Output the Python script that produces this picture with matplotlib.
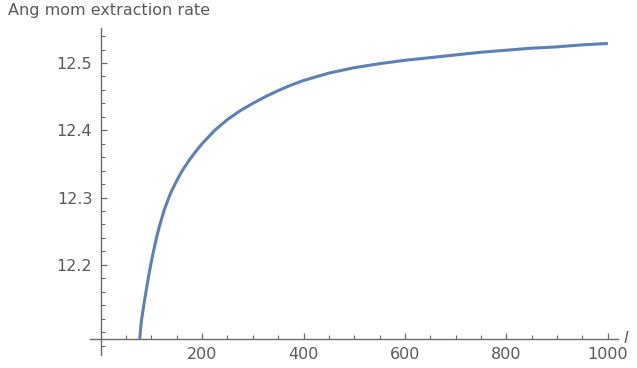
import numpy as np
import matplotlib.pyplot as plt
from matplotlib.ticker import FixedLocator

# values
l_vals = [77, 80, 85, 90, 95, 100, 105, 110, 115, 120, 125, 135, 140, 150, 160,
          175, 190, 200, 225, 250, 275, 300, 325, 350, 375, 400, 450, 500, 550,
          600, 650, 700, 750, 800, 850, 900, 950, 1000]
rate = [12.09, 12.115, 12.14, 12.163, 12.185, 12.205, 12.223, 12.24, 12.255,
        12.268, 12.281, 12.301, 12.31, 12.325, 12.339, 12.356, 12.371, 12.38,
        12.40, 12.416, 12.429, 12.44, 12.450, 12.459, 12.467, 12.474, 12.485,
        12.493, 12.499, 12.504, 12.508, 12.512, 12.516, 12.519, 12.522, 12.524,
        12.527, 12.529]

x_major = [200, 400, 600, 800, 1000]
x_minor = [50, 100, 150, 250, 300, 350, 450, 500, 550, 650, 700, 750, 850, 900, 950]
y_major = [12.2, 12.3, 12.4, 12.5]
y_minor = [12.08, 12.10, 12.12, 12.14, 12.16, 12.18, 12.22, 12.24, 12.26, 12.28,
           12.32, 12.34, 12.36, 12.38, 12.42, 12.44, 12.46, 12.48, 12.52, 12.54]

W, H = 637, 368
fig = plt.figure(figsize=(W / 100, H / 100), dpi=100)
ax = fig.add_axes([90 / W, (H - 355) / H, (618 - 90) / W, (355 - 28) / H])

ax.plot(l_vals, rate, color="#5E81B5", linewidth=2.2, solid_joinstyle="round",
        solid_capstyle="butt", clip_on=False)

ax.set_xlim(-21, 1020)
ax.set_ylim(12.066, 12.552)

axis_col = "#6b6b6b"
for side in ["top", "right"]:
    ax.spines[side].set_visible(False)
ax.spines["left"].set_position(("data", 0))
ax.spines["bottom"].set_position(("data", 12.09))
for side in ["left", "bottom"]:
    ax.spines[side].set_color(axis_col)
    ax.spines[side].set_linewidth(1.0)

ax.xaxis.set_major_locator(FixedLocator(x_major))
ax.xaxis.set_minor_locator(FixedLocator(x_minor))
ax.yaxis.set_major_locator(FixedLocator(y_major))
ax.yaxis.set_minor_locator(FixedLocator(y_minor))
ax.set_yticklabels(["12.2", "12.3", "12.4", "12.5"])

ax.tick_params(which="major", direction="in", length=4.5, width=0.9, color=axis_col,
               labelsize=11.5, labelcolor="#5a5a5a", pad=6)
ax.tick_params(which="minor", direction="in", length=2.8, width=0.8, color=axis_col)

ax.text(1030, 12.09, "l", fontsize=11.5, style="italic", color="#5a5a5a",
        va="center", ha="left", clip_on=False)
fig.text(8 / W, 1 - 11 / H, "Ang mom extraction rate", fontsize=11.5,
         color="#5a5a5a", va="center", ha="left")

fig.savefig("out.png", dpi=100)
